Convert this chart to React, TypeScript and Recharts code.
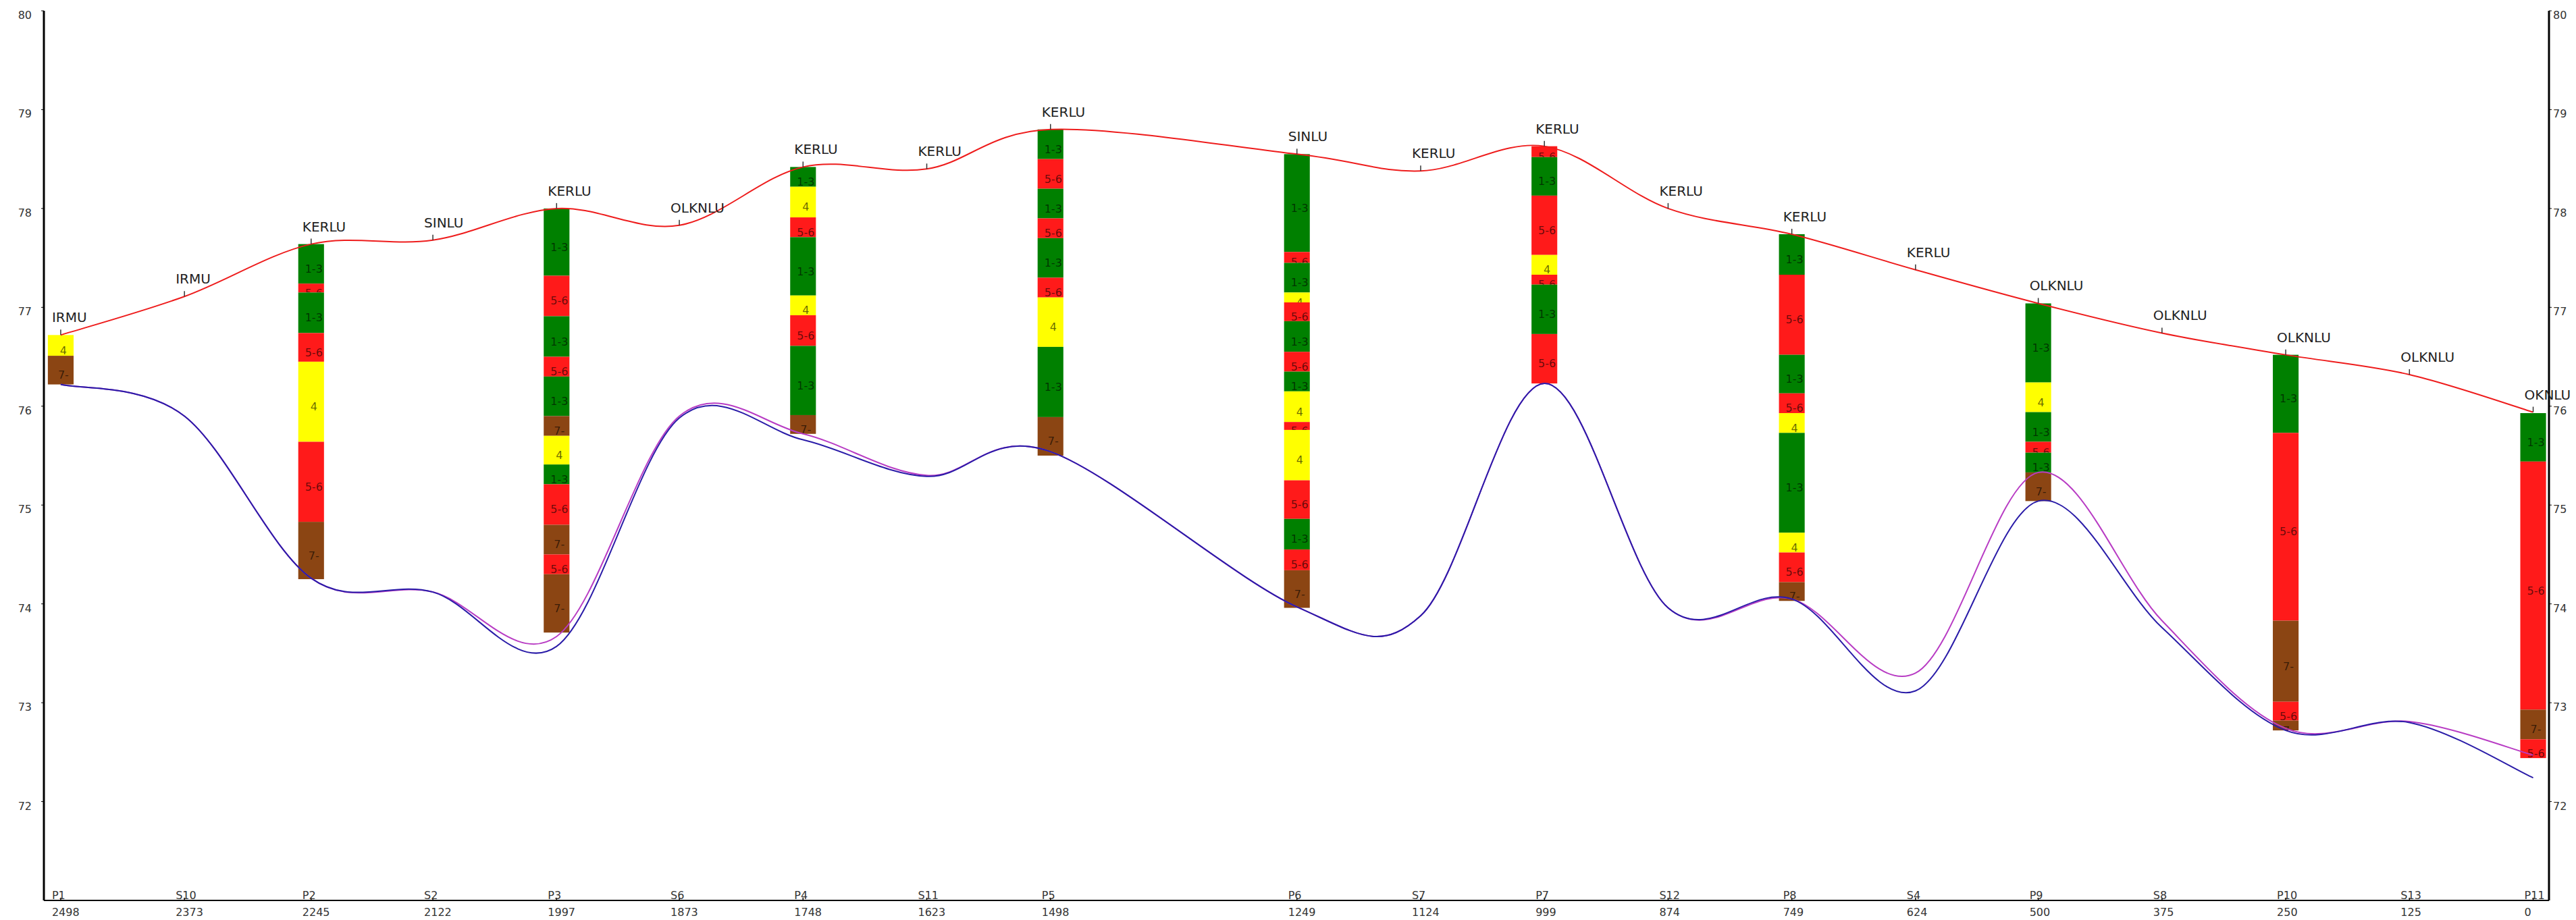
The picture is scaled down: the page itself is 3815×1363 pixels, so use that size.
import { ComposedChart, Line, XAxis, YAxis, ReferenceArea, LabelList } from "recharts";

// stations along the section, left to right
const stationNames = ["P1", "S10", "P2", "S2", "P3", "S6", "P4", "S11", "P5", "P6", "S7", "P7", "S12", "P8", "S4", "P9", "S8", "P10", "S13", "P11"];
const stationDist = [2498, 2373, 2245, 2122, 1997, 1873, 1748, 1623, 1498, 1249, 1124, 999, 874, 749, 624, 500, 375, 250, 125, 0];
const soilClass = ["IRMU", "IRMU", "KERLU", "SINLU", "KERLU", "OLKNLU", "KERLU", "KERLU", "KERLU", "SINLU", "KERLU", "KERLU", "KERLU", "KERLU", "KERLU", "OLKNLU", "OLKNLU", "OLKNLU", "OLKNLU", "OKNLU"];

// surfaces (m)
const groundLevel = [76.72, 77.11, 77.64, 77.68, 78.0, 77.83, 78.42, 78.4, 78.8, 78.55, 78.38, 78.63, 78.0, 77.74, 77.38, 77.04, 76.74, 76.52, 76.32, 75.94];
const baseLevelA = [76.22, 75.9, 74.26, 74.12, 73.57, 75.88, 75.66, 75.29, 75.54, 73.97, 73.88, 76.23, 73.96, 74.05, 73.12, 75.04, 73.76, 72.72, 72.8, 72.24];
const baseLevelB = [76.22, 75.9, 74.26, 74.12, 73.67, 75.9, 75.72, 75.3, 75.54, 73.97, 73.88, 76.23, 73.96, 74.05, 73.3, 75.33, 73.83, 72.74, 72.81, 72.47];

const levelTicks = [72, 73, 74, 75, 76, 77, 78, 79, 80];

// borehole logs: [soil, top, bottom]
type Layer = [string, number, number];

const logP1: Layer[] = [["4", 76.72, 76.51], ["7-", 76.51, 76.22]];
const logP2: Layer[] = [
  ["1-3", 77.64, 77.24], ["5-6", 77.24, 77.15], ["1-3", 77.15, 76.74], ["5-6", 76.74, 76.45],
  ["4", 76.45, 75.64], ["5-6", 75.64, 74.83], ["7-", 74.83, 74.25],
];
const logP3: Layer[] = [
  ["1-3", 78.0, 77.32], ["5-6", 77.32, 76.91], ["1-3", 76.91, 76.5], ["5-6", 76.5, 76.3],
  ["1-3", 76.3, 75.9], ["7-", 75.9, 75.7], ["4", 75.7, 75.41], ["1-3", 75.41, 75.21],
  ["5-6", 75.21, 74.8], ["7-", 74.8, 74.5], ["5-6", 74.5, 74.3], ["7-", 74.3, 73.71],
];
const logP4: Layer[] = [
  ["1-3", 78.42, 78.22], ["4", 78.22, 77.91], ["5-6", 77.91, 77.71], ["1-3", 77.71, 77.12],
  ["4", 77.12, 76.92], ["5-6", 76.92, 76.61], ["1-3", 76.61, 75.91], ["7-", 75.91, 75.72],
];
const logP5: Layer[] = [
  ["1-3", 78.8, 78.5], ["5-6", 78.5, 78.2], ["1-3", 78.2, 77.9], ["5-6", 77.9, 77.7],
  ["1-3", 77.7, 77.3], ["5-6", 77.3, 77.1], ["4", 77.1, 76.6], ["1-3", 76.6, 75.89], ["7-", 75.89, 75.5],
];
const logP6: Layer[] = [
  ["1-3", 78.55, 77.56], ["5-6", 77.56, 77.45], ["1-3", 77.45, 77.15], ["4", 77.15, 77.05],
  ["5-6", 77.05, 76.86], ["1-3", 76.86, 76.55], ["5-6", 76.55, 76.35], ["1-3", 76.35, 76.15],
  ["4", 76.15, 75.84], ["5-6", 75.84, 75.76], ["4", 75.76, 75.25], ["5-6", 75.25, 74.86],
  ["1-3", 74.86, 74.55], ["5-6", 74.55, 74.34], ["7-", 74.34, 73.96],
];
const logP7: Layer[] = [
  ["5-6", 78.63, 78.52], ["1-3", 78.52, 78.13], ["5-6", 78.13, 77.53], ["4", 77.53, 77.33],
  ["5-6", 77.33, 77.23], ["1-3", 77.23, 76.73], ["5-6", 76.73, 76.23],
];
const logP8: Layer[] = [
  ["1-3", 77.74, 77.33], ["5-6", 77.33, 76.52], ["1-3", 76.52, 76.13], ["5-6", 76.13, 75.93],
  ["4", 75.93, 75.73], ["1-3", 75.73, 74.72], ["4", 74.72, 74.52], ["5-6", 74.52, 74.22], ["7-", 74.22, 74.03],
];
const logP9: Layer[] = [
  ["1-3", 77.04, 76.24], ["4", 76.24, 75.94], ["1-3", 75.94, 75.64], ["5-6", 75.64, 75.53],
  ["1-3", 75.53, 75.33], ["7-", 75.33, 75.04],
];
const logP10: Layer[] = [
  ["1-3", 76.52, 75.73], ["5-6", 75.73, 73.83], ["7-", 73.83, 73.01], ["5-6", 73.01, 72.82], ["7-", 72.82, 72.72],
];
const logP11: Layer[] = [["1-3", 75.93, 75.44], ["5-6", 75.44, 72.93], ["7-", 72.93, 72.63], ["5-6", 72.63, 72.44]];

const boreholes: [string, Layer[]][] = [
  ["P1", logP1], ["P2", logP2], ["P3", logP3], ["P4", logP4], ["P5", logP5], ["P6", logP6],
  ["P7", logP7], ["P8", logP8], ["P9", logP9], ["P10", logP10], ["P11", logP11],
];

const SOIL_COLORS: Record<string, string> = {
  "1-3": "#008000",
  "4": "#ffff00",
  "5-6": "#ff1a1a",
  "7-": "#8b4513",
};

const FONT = "DejaVu Sans, Verdana, sans-serif";
const HALF_COL = 13; // half column width in distance units

const data = stationDist.map((d, i) => ({
  dist: d,
  soil: soilClass[i],
  ground: groundLevel[i],
  baseA: baseLevelA[i],
  baseB: baseLevelB[i],
}));

// uniform catmull-rom spline, ends duplicated
function catmullRom(context: any) {
  let pts: number[][] = [];
  return {
    areaStart() {},
    areaEnd() {},
    lineStart() {
      pts = [];
    },
    point(x: number, y: number) {
      pts.push([+x, +y]);
    },
    lineEnd() {
      const n = pts.length;
      if (!n) return;
      context.moveTo(pts[0][0], pts[0][1]);
      for (let i = 0; i < n - 1; i++) {
        const p0 = pts[Math.max(i - 1, 0)];
        const p1 = pts[i];
        const p2 = pts[i + 1];
        const p3 = pts[Math.min(i + 2, n - 1)];
        context.bezierCurveTo(
          p1[0] + (p2[0] - p0[0]) / 6,
          p1[1] + (p2[1] - p0[1]) / 6,
          p2[0] - (p3[0] - p1[0]) / 6,
          p2[1] - (p3[1] - p1[1]) / 6,
          p2[0],
          p2[1]
        );
      }
    },
  };
}

function LayerShape(props: any) {
  const { x, y, width, height, soil, clipId } = props;
  if (x == null || y == null) return null;
  return (
    <g>
      <defs>
        <clipPath id={clipId}>
          <rect x={x} y={y} width={width} height={height} />
        </clipPath>
      </defs>
      <rect x={x} y={y} width={width} height={height} fill={SOIL_COLORS[soil]} />
      <text
        clipPath={`url(#${clipId})`}
        x={x + width / 2 + 4}
        y={y + height / 2 + 13}
        textAnchor="middle"
        fontFamily={FONT}
        fontSize={16}
        fill="#000"
        fillOpacity={0.6}
      >
        {soil}
      </text>
    </g>
  );
}

function StationLabel(props: any) {
  const { x, y, value } = props;
  if (x == null || y == null) return null;
  return (
    <g>
      <line x1={x} x2={x} y1={y} y2={y - 8} stroke="#333" strokeWidth={1.5} />
      <text x={x - 13} y={y - 19} fontFamily={FONT} fontSize={20} fill="#222">
        {value}
      </text>
    </g>
  );
}

function StationTick(props: any) {
  const { x, y, payload } = props;
  const i = stationDist.indexOf(payload.value);
  return (
    <g>
      <line x1={x} x2={x} y1={y} y2={y - 4} stroke="#000" strokeWidth={1.5} />
      <text x={x - 13} y={y - 2} fontFamily={FONT} fontSize={16} fill="#333">
        {stationNames[i]}
      </text>
      <text x={x - 13} y={y + 23} fontFamily={FONT} fontSize={16} fill="#333">
        {payload.value}
      </text>
    </g>
  );
}

function LeftTick(props: any) {
  const { x, y, payload } = props;
  return (
    <text x={x - 14} y={y + 12} textAnchor="end" fontFamily={FONT} fontSize={16} fill="#333">
      {payload.value}
    </text>
  );
}

function RightTick(props: any) {
  const { x, y, payload } = props;
  return (
    <text x={x + 2} y={y + 12} textAnchor="start" fontFamily={FONT} fontSize={16} fill="#333">
      {payload.value}
    </text>
  );
}

export default function App() {
  return (
    <div style={{ position: "absolute", left: 0, top: 0, background: "#fff" }}>
      <ComposedChart width={3815} height={1363} data={data} margin={{ top: 16, right: 0, bottom: 0, left: 0 }}>
        <XAxis
          dataKey="dist"
          type="number"
          domain={[-16, 2515]}
          reversed
          ticks={stationDist}
          interval={0}
          height={29}
          tickSize={0}
          tickMargin={0}
          axisLine={{ stroke: "#000", strokeWidth: 2 }}
          tickLine={false}
          tick={<StationTick />}
          allowDataOverflow
        />
        <YAxis
          yAxisId="left"
          domain={[71, 80]}
          ticks={levelTicks}
          width={65}
          tickSize={4}
          tickMargin={0}
          axisLine={{ stroke: "#000", strokeWidth: 3 }}
          tickLine={{ stroke: "#000" }}
          tick={<LeftTick />}
          allowDataOverflow
        />
        <YAxis
          yAxisId="right"
          orientation="right"
          domain={[71, 80]}
          ticks={levelTicks}
          width={40}
          tickSize={4}
          tickMargin={0}
          axisLine={{ stroke: "#000", strokeWidth: 3 }}
          tickLine={{ stroke: "#000" }}
          tick={<RightTick />}
          allowDataOverflow
        />

        {boreholes.map(([name, log]) => {
          const d = stationDist[stationNames.indexOf(name)];
          return log.map(([soil, top, bottom], j) => (
            <ReferenceArea
              key={`${name}-${j}`}
              yAxisId="left"
              x1={d + HALF_COL}
              x2={d - HALF_COL}
              y1={bottom}
              y2={top}
              ifOverflow="visible"
              shape={(p: any) => <LayerShape {...p} soil={soil} clipId={`clip-${name}-${j}`} />}
            />
          ));
        })}

        <Line yAxisId="left" dataKey="baseB" type={catmullRom as any} stroke="#b83cc4" strokeWidth={2} dot={false} activeDot={false} isAnimationActive={false} />
        <Line yAxisId="left" dataKey="baseA" type={catmullRom as any} stroke="#2a1ca8" strokeWidth={2} dot={false} activeDot={false} isAnimationActive={false} />
        <Line yAxisId="left" dataKey="ground" type={catmullRom as any} stroke="#ee1c1c" strokeWidth={2} dot={false} activeDot={false} isAnimationActive={false}>
          <LabelList dataKey="soil" content={(p: any) => <StationLabel {...p} />} />
        </Line>
      </ComposedChart>
    </div>
  );
}
